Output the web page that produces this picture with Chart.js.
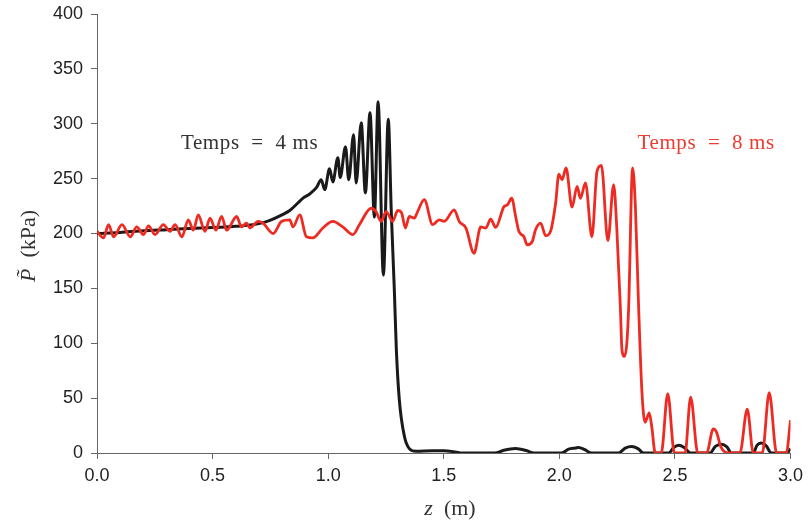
<!DOCTYPE html>
<html>
<head>
<meta charset="utf-8">
<script src="https://cdn.jsdelivr.net/npm/chart.js@4.4.1/dist/chart.umd.min.js"></script>
<style>
    html, body { margin: 0; padding: 0; background: #fff; }
    #wrap { width: 809px; height: 527px; position: relative; }
</style>
</head>
<body>
<div id="wrap"><canvas id="chart"></canvas></div>
<script>
; (function () {
    'use strict'

    // ---------------------------------------------------------------------------
    // DATA
    // ---------------------------------------------------------------------------

    // Temps = 4 ms (black)
    const blackZ = [0, 0.1, 0.2, 0.3, 0.4, 0.5, 0.6, 0.7, 0.748, 0.8, 0.834, 0.87, 0.89, 0.92, 0.95,
        0.970, 0.985, 1.006, 1.020, 1.042, 1.052, 1.075, 1.089, 1.110, 1.121, 1.143, 1.161, 1.181, 1.200, 1.216, 1.239, 1.260,
        1.273, 1.286, 1.295, 1.308, 1.330, 1.351, 1.381,
        1.45, 1.5, 1.55, 1.58, 1.72, 1.76, 1.81, 1.86, 1.89,
        2.01, 2.04, 2.07, 2.084, 2.11, 2.14,
        2.256, 2.285, 2.313, 2.34, 2.364,
        2.473, 2.495, 2.516, 2.54, 2.567,
        2.652, 2.675, 2.701, 2.725, 2.744,
        2.839, 2.855, 2.873, 2.895, 2.917,
        2.985, 3.0]
    const blackP = [200, 201, 202.5, 203.5, 204.5, 205.5, 206.5, 209, 212, 217, 221, 228, 232, 236, 242,
        249, 240, 259, 247, 269, 251, 279, 249, 290, 246, 301, 237, 310, 215, 320, 162, 304,
        220, 150, 94, 48, 15, 4, 1.5,
        2, 2, 1, 0, 0, 2.5, 4, 2, 0,
        0, 3.5, 4.5, 5, 3, 0,
        0, 4.5, 6, 4, 0,
        0, 5, 7, 5, 0,
        0, 6, 8, 5.5, 0,
        0, 7, 9, 6.5, 0,
        0, 4]

    // Temps = 8 ms (red)
    const redZ = [0.000, 0.028, 0.050, 0.072, 0.108, 0.144, 0.172, 0.201, 0.223, 0.251, 0.287, 0.316, 0.338, 0.367,
        0.395, 0.417, 0.438, 0.467, 0.489, 0.514, 0.539, 0.561, 0.604, 0.625, 0.647, 0.661, 0.697, 0.718, 0.762,
        0.798, 0.834, 0.848, 0.877, 0.906, 0.934, 0.977, 1.020, 1.063, 1.107, 1.135, 1.186, 1.207, 1.229, 1.251,
        1.279, 1.301, 1.318, 1.334, 1.351, 1.373, 1.387, 1.416, 1.452, 1.480, 1.502, 1.545, 1.567, 1.596, 1.631,
        1.660, 1.682, 1.703, 1.725, 1.761, 1.775, 1.794, 1.811, 1.825, 1.847, 1.861, 1.883, 1.897, 1.919, 1.941,
        1.962, 1.984, 1.998, 2.012, 2.029, 2.055, 2.077, 2.091, 2.113, 2.141, 2.163, 2.182, 2.210, 2.235, 2.249,
        2.264, 2.271, 2.282, 2.292, 2.300, 2.317, 2.329, 2.342, 2.357, 2.371, 2.389, 2.400, 2.415, 2.441, 2.469,
        2.498, 2.544, 2.568, 2.599, 2.637, 2.666, 2.680, 2.699, 2.731, 2.781, 2.813, 2.839, 2.878, 2.908, 2.940,
        2.982, 3.000]
    const redP = [202, 196, 208, 197, 208, 197, 206, 199, 207, 199, 208, 202, 208, 197,
        212.5, 203, 217, 202, 214, 203, 215.5, 203, 215.5, 206, 209.5, 205, 211, 209.5, 200,
        211, 212.5, 206, 217, 197, 196, 205, 211, 206, 199, 208, 223, 220, 211, 220,
        211, 221, 218.6, 205, 215.5, 214, 220, 230.8, 208, 212.5, 211, 221.6, 211, 205, 182,
        206, 205, 213, 205.5, 224.6, 226, 232.3, 215.5, 202, 197, 189.7, 192.7, 203.4, 209.5, 198,
        202, 227.8, 254, 249, 259.7, 224, 243, 232, 246, 197, 256.6, 262, 193.5, 244.5, 203,
        133, 94, 88, 100, 133, 259.7, 224.7, 139.5, 57, 28, 36.5, 23.7, 0, 0, 54,
        0, 0, 51, 0, 0, 22, 19, 5.5, 0, 0, 40, 0, 0, 55, 0,
        0, 30]

    const xTicks = [0, 0.5, 1.0, 1.5, 2.0, 2.5, 3.0]
    const yTicks = [0, 50, 100, 150, 200, 250, 300, 350, 400]

    const labels = [
        { text: 'Temps  =  4 ms', z: 0.66, p: 277, color: '#333333' },
        { text: 'Temps  =  8 ms', z: 2.635, p: 277, color: '#EE3B30' },
    ]

    // ---------------------------------------------------------------------------
    // HELPERS
    // ---------------------------------------------------------------------------

    function toPoints(xs, ys) {
        return xs.map((x, i) => ({ x, y: ys[i] }))
    }

    const SANS = '"Liberation Sans", Arial, Helvetica, sans-serif'
    const SERIF = '"Liberation Serif", "Times New Roman", serif'

    // ---------------------------------------------------------------------------
    // TEXT PLUGIN (axis titles + annotations)
    // ---------------------------------------------------------------------------

    const textPlugin = {
        id: 'pressureText',
        afterDraw(chart) {
            const ctx = chart.ctx
            const sx = chart.scales.x
            const sy = chart.scales.y
            ctx.save()
            ctx.textBaseline = 'alphabetic'

            // annotations
            ctx.font = '21px ' + SERIF
            ctx.letterSpacing = '0.6px'
            ctx.textAlign = 'center'
            for (const l of labels) {
                ctx.fillStyle = l.color
                ctx.fillText(l.text, sx.getPixelForValue(l.z), sy.getPixelForValue(l.p))
            }
            ctx.letterSpacing = '0px'

            // x title: z (m)
            ctx.fillStyle = '#333333'
            ctx.textAlign = 'left'
            const xt = 'z'
            const xr = '  (m)'
            ctx.font = 'italic 22px ' + SERIF
            const w1 = ctx.measureText(xt).width
            ctx.font = '22px ' + SERIF
            const w2 = ctx.measureText(xr).width
            let x0 = 450 - (w1 + w2) / 2
            ctx.font = 'italic 22px ' + SERIF
            ctx.fillText(xt, x0, 515)
            ctx.font = '22px ' + SERIF
            ctx.fillText(xr, x0 + w1, 515)

            // y title: P~ (kPa), rotated
            ctx.translate(35, 246)
            ctx.rotate(-Math.PI / 2)
            const yt = 'P\u0303'
            const yr = '  (kPa)'
            ctx.font = 'italic 22px ' + SERIF
            const v1 = ctx.measureText(yt).width
            ctx.font = '22px ' + SERIF
            const v2 = ctx.measureText(yr).width
            x0 = -(v1 + v2) / 2
            ctx.font = 'italic 22px ' + SERIF
            ctx.fillText(yt, x0, 0)
            ctx.font = '22px ' + SERIF
            ctx.fillText(yr, x0 + v1, 0)
            ctx.restore()
        },
    }

    // ---------------------------------------------------------------------------
    // CHART
    // ---------------------------------------------------------------------------

    new Chart(document.getElementById('chart'), {
        type: 'line',
        data: {
            datasets: [
                {
                    label: 'Temps = 8 ms',
                    data: toPoints(redZ, redP),
                    borderColor: '#EE2B22',
                    borderWidth: 2.8,
                    pointRadius: 0,
                    cubicInterpolationMode: 'monotone',
                    fill: false,
                },
                {
                    label: 'Temps = 4 ms',
                    data: toPoints(blackZ, blackP),
                    borderColor: '#1a1a1a',
                    borderWidth: 3,
                    pointRadius: 0,
                    cubicInterpolationMode: 'monotone',
                    fill: false,
                },
            ],
        },
        options: {
            responsive: true,
            maintainAspectRatio: false,
            animation: false,
            layout: { padding: { left: 0, right: 16, top: 14, bottom: 0 } },
            plugins: {
                legend: { display: false },
                tooltip: { enabled: false },
            },
            scales: {
                x: {
                    type: 'linear',
                    min: 0,
                    max: 3,
                    afterBuildTicks: scale => { scale.ticks = xTicks.map(v => ({ value: v })) },
                    afterFit: scale => { scale.height = 74 },
                    ticks: {
                        color: '#222',
                        font: { family: SANS, size: 18 },
                        padding: 6,
                        maxRotation: 0,
                        callback: v => Number(v).toFixed(1),
                    },
                    grid: { drawOnChartArea: false, drawTicks: true, tickLength: 6, tickColor: '#666' },
                    border: { display: true, color: '#666', width: 1 },
                },
                y: {
                    min: 0,
                    max: 400,
                    afterBuildTicks: scale => { scale.ticks = yTicks.map(v => ({ value: v })) },
                    afterFit: scale => { scale.width = 97; scale.paddingTop = 0; scale.paddingBottom = 0 },
                    ticks: {
                        color: '#222',
                        font: { family: SANS, size: 18, lineHeight: 0.9 },
                        padding: 8,
                    },
                    grid: { drawOnChartArea: false, drawTicks: true, tickLength: 6, tickColor: '#666' },
                    border: { display: true, color: '#666', width: 1 },
                },
            },
        },
        plugins: [textPlugin],
    })
})()
</script>
</body>
</html>
